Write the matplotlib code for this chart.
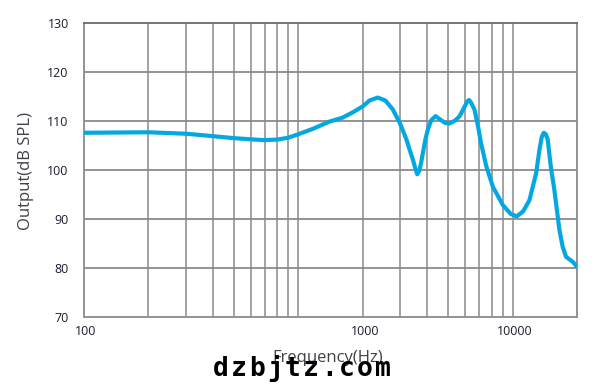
import matplotlib
matplotlib.use("Agg")
import matplotlib.pyplot as plt
import matplotlib.transforms as mtransforms

# ---- data ----
freq_hz = [100, 200, 300, 400, 500, 683, 800, 900, 1000, 1169, 1402, 1612,
           1800, 2000, 2150, 2348, 2550, 2760, 2973, 3194, 3300, 3429, 3520,
           3594, 3680, 3750, 3818, 3920, 4027, 4180, 4375, 4600, 4850, 5084,
           5400, 5665, 5950, 6150, 6270, 6400, 6650, 6900, 7120, 7540, 8090,
           9015, 9800, 10470, 11200, 11995, 12890, 13360, 13700, 13990, 14300,
           14600, 15080, 15670, 16560, 17140, 17790, 19100, 20000]
spl_db = [107.6, 107.7, 107.4, 106.9, 106.5, 106.1, 106.2, 106.6, 107.3, 108.4,
          109.9, 110.7, 111.8, 113.0, 114.2, 114.8, 114.2, 112.4, 109.7, 106.3,
          104.3, 102.1, 100.3, 99.1, 99.9, 101.6, 103.5, 106.2, 108.3, 110.2,
          111.0, 110.3, 109.6, 109.5, 110.1, 111.0, 112.8, 114.0, 114.3, 113.8,
          112.3, 109.0, 105.6, 100.8, 96.6, 92.8, 91.0, 90.5, 91.5, 93.8,
          99.3, 104.1, 106.8, 107.6, 107.3, 106.2, 100.8, 96.0, 87.7, 84.3,
          82.2, 81.2, 80.2]

grid_freqs = [200, 300, 400, 500, 600, 700, 800, 900, 1000,
              2000, 3000, 4000, 5000, 6000, 7000, 8000, 9000, 10000]
xtick_pos = [100, 2000, 10000]
xtick_labels = ["100", "1000", "10000"]
yticks = [70, 80, 90, 100, 110, 120, 130]

W, H = 609, 390
fig = plt.figure(figsize=(W / 100, H / 100), dpi=100)
ax = fig.add_axes([84 / W, 1 - 316.5 / H, 493 / W, 293.2 / H])

ax.set_xscale("log")
ax.set_xlim(100, 20000)
ax.set_ylim(70, 130)

grid_c = "#8a8a8a"
for f in grid_freqs:
    ax.axvline(f, color=grid_c, lw=1.1, zorder=1)
for y in yticks[1:-1]:
    ax.axhline(y, color=grid_c, lw=1.3, zorder=1)

ax.plot(freq_hz, spl_db, color="#04a8e0", lw=3.0, solid_joinstyle="round",
        solid_capstyle="round", zorder=3)

for s in ax.spines.values():
    s.set_color("#8a8a8a")
    s.set_linewidth(1.3)
ax.spines["top"].set_color("#6a6a6a")

ax.set_xticks(xtick_pos)
ax.set_xticklabels(xtick_labels)
ax.xaxis.set_minor_locator(matplotlib.ticker.NullLocator())
ax.set_yticks(yticks)
ax.set_yticklabels([str(v) for v in yticks])
ax.tick_params(axis="both", length=0, labelsize=9, labelcolor="#1c1c2c")
ax.tick_params(axis="y", pad=11)
ax.tick_params(axis="x", pad=6)
for lab in ax.get_xticklabels():
    lab.set_fontfamily("Open Sans")
    lab.set_transform(lab.get_transform() +
                      mtransforms.ScaledTranslation(2 / 100, 0, fig.dpi_scale_trans))
for lab in ax.get_yticklabels():
    lab.set_fontfamily("Open Sans")

fig.text(327.5 / W, 1 - 357.7 / H, "Frequency(Hz)", ha="center", va="center",
         fontsize=12, color="#404048", family="Open Sans")
fig.text(26 / W, 1 - 171.5 / H, "Output(dB SPL)", ha="center", va="center",
         rotation=90, fontsize=12, color="#404048", family="Open Sans")

# watermark
wm = "dzbjtz.com"
x0 = 212.7 + 8
for i, ch in enumerate(wm):
    fig.text((x0 + i * 18.05) / W, 1 - 376 / H, ch, ha="center", va="baseline",
             fontsize=19, fontweight="bold", color="#000000",
             family="DejaVu Sans Mono", zorder=10)

fig.savefig("out.png", dpi=100)
